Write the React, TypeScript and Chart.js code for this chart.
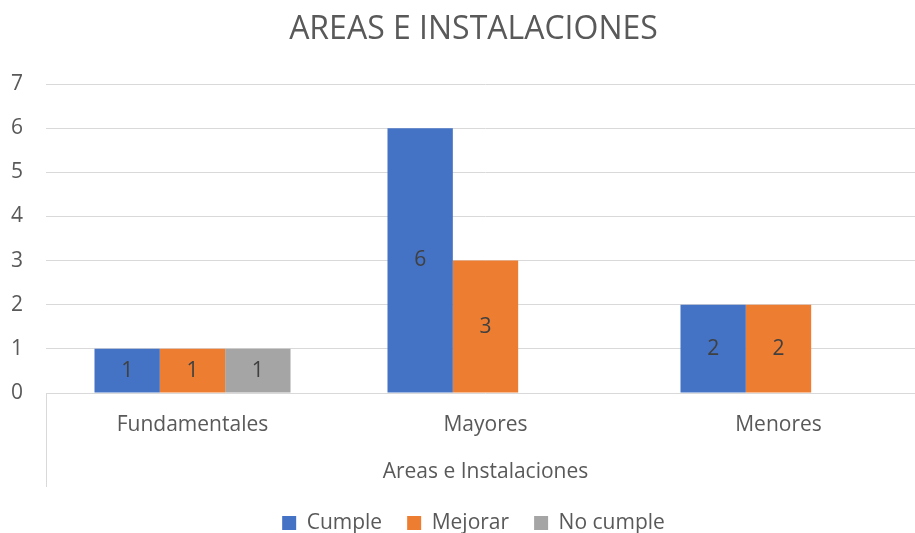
import React, { useEffect, useRef } from "react";
import { Chart, registerables } from "chart.js";

Chart.register(...registerables);

const chartTitle = "AREAS E INSTALACIONES";
const categories = ["Fundamentales", "Mayores", "Menores"];
const groupLabel = "Areas e Instalaciones";
const seriesNames = ["Cumple", "Mejorar", "No cumple"];
const cumple = [1, 6, 2];
const mejorar = [1, 3, 2];
const noCumple = [1, null, null];
const seriesColors = ["#4472C4", "#ED7D31", "#A5A5A5"];
const yMin = 0;
const yMax = 7;
const yStep = 1;

const FONT = "'Open Sans', 'Noto Sans', sans-serif";
const TEXT = "#595959";
const GRID = "#D9D9D9";

const valueLabels = {
  id: "valueLabels",
  afterDatasetsDraw(chart: any) {
    const ctx = chart.ctx;
    ctx.save();
    ctx.fillStyle = "#404040";
    ctx.font = `21px ${FONT}`;
    ctx.textAlign = "center";
    ctx.textBaseline = "middle";
    chart.data.datasets.forEach((ds: any, i: number) => {
      const meta = chart.getDatasetMeta(i);
      meta.data.forEach((el: any, j: number) => {
        const v = ds.data[j];
        if (v == null) return;
        const p = el.getProps(["x", "y", "base"], true);
        ctx.fillText(String(v), p.x, (p.y + p.base) / 2);
      });
    });
    ctx.restore();
  },
};

const groupLines = {
  id: "groupLines",
  afterLayout(chart: any) {
    // let the y tick labels extend left of the axis box without being clipped
    const y = chart.scales.y;
    if (y) y._computeLabelArea = () => undefined;
  },
  afterDraw(chart: any) {
    const { ctx, chartArea } = chart;
    ctx.save();
    ctx.strokeStyle = GRID;
    ctx.lineWidth = 1;
    [chartArea.left, chartArea.right].forEach((x: number) => {
      const xx = Math.round(x) + 0.5;
      ctx.beginPath();
      ctx.moveTo(xx, chartArea.bottom);
      ctx.lineTo(xx, chartArea.bottom + 94);
      ctx.stroke();
    });
    ctx.restore();
  },
};

export default function App() {
  const ref = useRef<HTMLCanvasElement>(null);
  useEffect(() => {
    if (!ref.current) return;
    const seriesData = [cumple, mejorar, noCumple];
    const chart = new Chart(ref.current, {
      type: "bar",
      data: {
        labels: categories,
        datasets: seriesNames.map((name, i) => ({
          label: name,
          data: seriesData[i] as any,
          backgroundColor: seriesColors[i],
          borderWidth: 0,
          categoryPercentage: 0.669,
          barPercentage: 1,
        })),
      },
      options: {
        animation: false,
        responsive: false,
        maintainAspectRatio: false,
        layout: { padding: { left: 22, right: 25, top: 11, bottom: 3.5 } },
        plugins: {
          title: {
            display: true,
            text: chartTitle,
            color: TEXT,
            font: { family: FONT, size: 32, weight: "normal" },
            padding: { top: 0, bottom: 34.6 },
          },
          legend: {
            position: "bottom",
            labels: {
              color: TEXT,
              font: { family: FONT, size: 21 },
              boxWidth: 14,
              boxHeight: 14,
              padding: 25,
            },
          },
          tooltip: { enabled: false },
        },
        scales: {
          x: {
            grid: { display: false, drawTicks: false },
            border: { display: false },
            ticks: { color: TEXT, font: { family: FONT, size: 21 }, padding: 19 },
            title: {
              display: true,
              text: groupLabel,
              color: TEXT,
              font: { family: FONT, size: 21 },
              padding: { top: 3.2, bottom: 2.9 },
            },
          },
          y: {
            min: yMin,
            max: yMax,
            afterFit: (scale: any) => {
              scale.width = 24;
            },
            grid: { color: GRID, drawTicks: false, lineWidth: 1 },
            border: { display: false },
            ticks: {
              stepSize: yStep,
              color: TEXT,
              font: { family: FONT, size: 21 },
              padding: 23,
            },
          },
        },
      },
      plugins: [valueLabels, groupLines],
    });
    return () => chart.destroy();
  }, []);
  return (
    <div style={{ position: "fixed", left: 0, top: 0, width: 915, height: 533, overflow: "hidden", background: "#fff" }}>
      <canvas ref={ref} width={950} height={547} style={{ display: "block" }} />
    </div>
  );
}
